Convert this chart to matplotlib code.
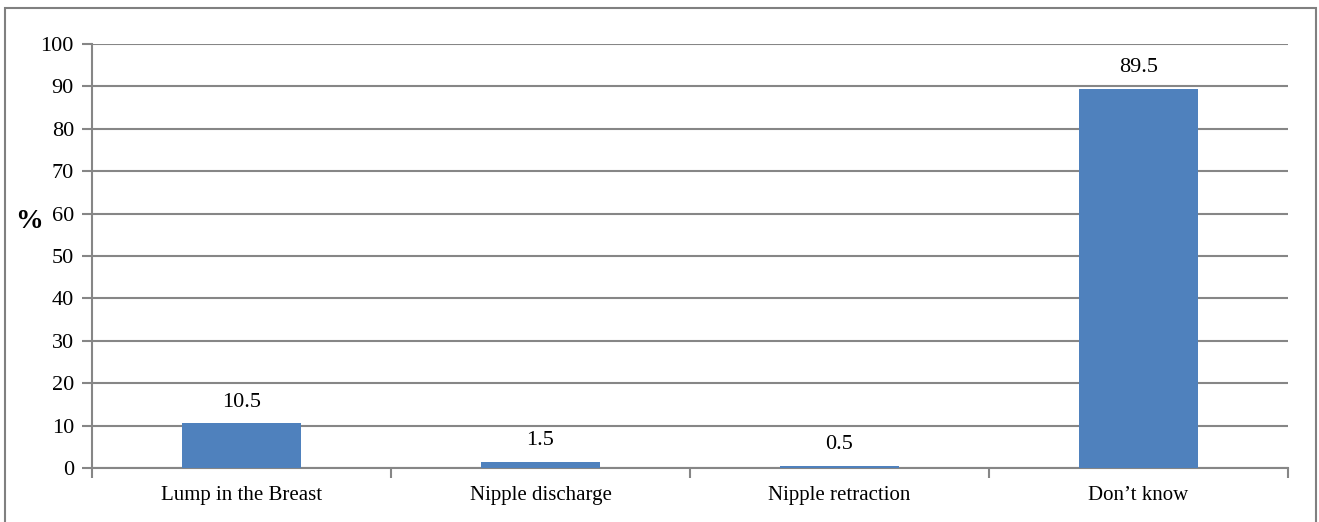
import matplotlib
matplotlib.use("Agg")
import matplotlib.pyplot as plt
from matplotlib.patches import Rectangle

# Awareness of breast cancer warning signs (% of respondents)
categories = ["Lump in the Breast", "Nipple discharge", "Nipple retraction", "Don\u2019t know"]
percent = [10.5, 1.5, 0.5, 89.5]
yticks = list(range(0, 101, 10))

plt.rcParams["font.family"] = ["Liberation Serif", "DejaVu Serif"]

BAR = "#4F81BD"
GRID = "#868686"

fig = plt.figure(figsize=(13.19, 5.22), dpi=100)
ax = fig.add_axes([92 / 1319, 1 - 468 / 522, (1288 - 92) / 1319, (468 - 44) / 522])

# outer frame round the whole chart
fig.patches.append(Rectangle((5 / 1319, -0.05), 1311 / 1319, 1.05 - 8 / 522,
                             transform=fig.transFigure, fill=False,
                             edgecolor="#808080", linewidth=1.5))

x = range(len(categories))
bars = ax.bar(x, percent, width=0.4, color=BAR, zorder=3)
for b, v in zip(bars, percent):
    ax.annotate(f"{v:g}", (b.get_x() + b.get_width() / 2, v),
                xytext=(0, 12), textcoords="offset points",
                ha="center", va="baseline", fontsize=16)

ax.set_xlim(-0.5, len(categories) - 0.5)
ax.set_ylim(0, 100)
ax.set_yticks(yticks)
ax.set_yticklabels([str(t) for t in yticks], fontsize=16)
ax.yaxis.grid(True, color=GRID, linewidth=1.5, zorder=0)
ax.tick_params(axis="y", length=7, width=1.5, color=GRID, pad=6)

# category labels centred, tick marks at the category boundaries
ax.set_xticks(list(x))
ax.set_xticklabels(categories, fontsize=15)
ax.tick_params(axis="x", length=0, pad=13)
ax.set_xticks([i + 0.5 for i in range(-1, len(categories))], minor=True)
ax.tick_params(axis="x", which="minor", length=7, width=1.5, color=GRID)

for side in ("top", "right"):
    ax.spines[side].set_visible(False)
for side in ("left", "bottom"):
    ax.spines[side].set_color(GRID)
    ax.spines[side].set_linewidth(1.5)

# axis title sits beside the 60 tick
fig.text(29 / 1319, 1 - 222 / 522, "%", fontsize=20, fontweight="bold",
         ha="center", va="center")

fig.savefig("out.png", dpi=100)
